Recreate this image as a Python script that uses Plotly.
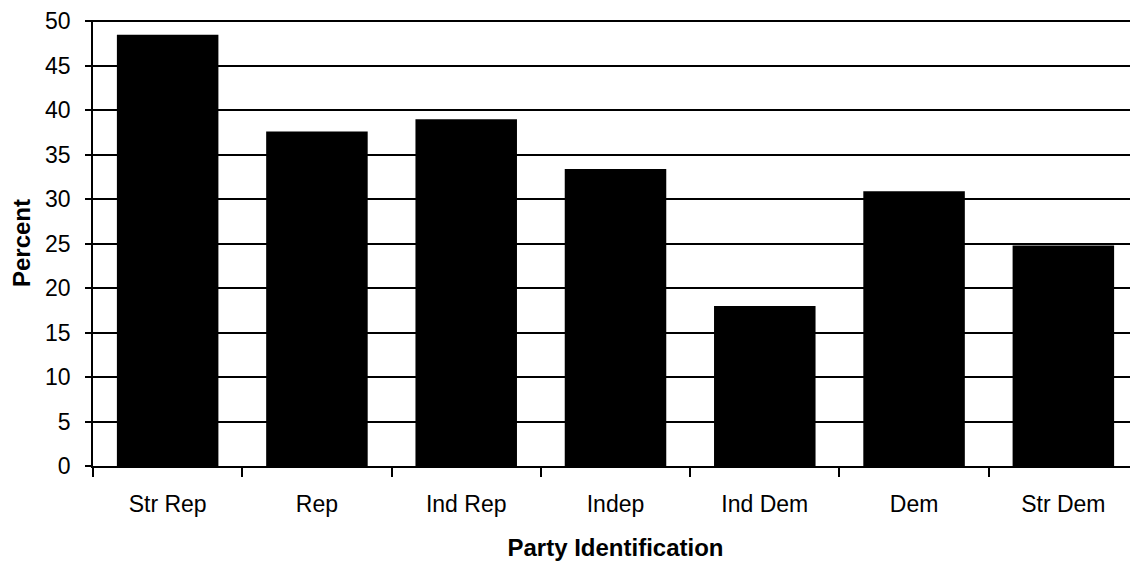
import plotly.graph_objects as go

categories = ["Str Rep", "Rep", "Ind Rep", "Indep", "Ind Dem", "Dem", "Str Dem"]
percent = [48.5, 37.6, 39.0, 33.4, 18.0, 30.9, 24.8]
y_ticks = [0, 5, 10, 15, 20, 25, 30, 35, 40, 45, 50]

FONT = "Liberation Sans, Arial, sans-serif"

fig = go.Figure(
    go.Bar(
        x=categories,
        y=percent,
        marker=dict(color="black", line=dict(width=0)),
        width=0.68,
    )
)

fig.update_layout(
    width=1130,
    height=554,
    margin=dict(l=85, r=0, t=9, b=96),
    paper_bgcolor="white",
    plot_bgcolor="white",
    showlegend=False,
    font=dict(family=FONT, color="black", size=23),
)

fig.update_xaxes(
    type="category",
    showgrid=False,
    showline=True,
    linecolor="black",
    linewidth=2,
    ticks="outside",
    tickson="boundaries",
    ticklen=9,
    tickwidth=1.5,
    tickcolor="black",
    ticklabelstandoff=16,
    tickfont=dict(family=FONT, size=23, color="black"),
    title=dict(
        text="<b>Party Identification</b>",
        font=dict(family=FONT, size=24, color="black"),
        standoff=24,
    ),
)

fig.update_yaxes(
    range=[0, 50.15],
    autorange=False,
    tickmode="array",
    tickvals=y_ticks,
    ticktext=[str(v) for v in y_ticks],
    showgrid=True,
    gridcolor="black",
    gridwidth=2,
    zeroline=False,
    showline=True,
    linecolor="black",
    linewidth=1.5,
    ticks="outside",
    ticklen=6,
    tickwidth=1.5,
    tickcolor="black",
    ticklabelstandoff=10,
    ticklabeloverflow="allow",
    tickfont=dict(family=FONT, size=23, color="black"),
    title=dict(
        text="<b>Percent</b>",
        font=dict(family=FONT, size=24, color="black"),
        standoff=13,
    ),
)

fig.write_html("out.html")
